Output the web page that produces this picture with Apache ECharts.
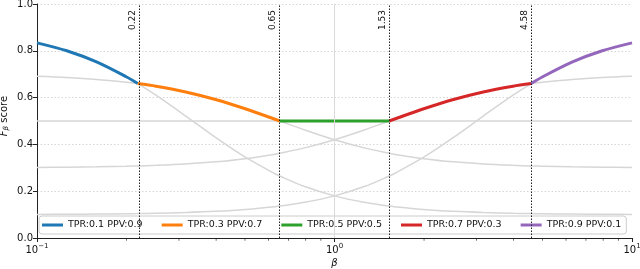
<!DOCTYPE html>
<html><head><meta charset="utf-8">
<script src="https://cdn.jsdelivr.net/npm/echarts@6/dist/echarts.min.js"></script>
<style>html,body{margin:0;padding:0;background:#fff}#c{width:640px;height:269px}</style>
</head><body><div id="c"></div>
<script>
// beta sample points (log-spaced, plus the crossover points)
const betas = [0.1, 0.1259, 0.1585, 0.1995, 0.2182, 0.2512, 0.3162, 0.3981, 0.5012, 0.631, 0.6547, 0.7943, 1,
  1.2589, 1.5275, 1.5849, 1.9953, 2.5119, 3.1623, 3.9811, 4.583, 5.0119, 6.3096, 7.9433, 10];
// F-beta scores read for each (TPR, PPV) pair
const fA = [0.8339, 0.8001, 0.7525, 0.6890, 0.66, 0.6102, 0.5211, 0.4297, 0.3453, 0.2746, 0.2647, 0.2198, 0.18,
  0.1524, 0.1364, 0.1339, 0.1217, 0.1138, 0.1088, 0.1056, 0.1042, 0.1035, 0.1022, 0.1014, 0.1009];
const fB = [0.6909, 0.6857, 0.6778, 0.6660, 0.66, 0.6487, 0.6243, 0.5920, 0.5522, 0.5074, 0.5, 0.4618, 0.42,
  0.3851, 0.3621, 0.3583, 0.3389, 0.3254, 0.3164, 0.3105, 0.308, 0.3067, 0.3043, 0.3027, 0.3017];
const fC = [0.5, 0.5, 0.5, 0.5, 0.5, 0.5, 0.5, 0.5, 0.5, 0.5, 0.5, 0.5, 0.5,
  0.5, 0.5, 0.5, 0.5, 0.5, 0.5, 0.5, 0.5, 0.5, 0.5, 0.5, 0.5];
const fD = [0.3017, 0.3027, 0.3043, 0.3067, 0.308, 0.3105, 0.3164, 0.3254, 0.3389, 0.3583, 0.3621, 0.3851, 0.42,
  0.4618, 0.5, 0.5074, 0.5522, 0.5920, 0.6243, 0.6487, 0.66, 0.6660, 0.6778, 0.6857, 0.6909];
const fE = [0.1009, 0.1014, 0.1022, 0.1035, 0.1042, 0.1056, 0.1088, 0.1138, 0.1217, 0.1339, 0.1364, 0.1524, 0.18,
  0.2198, 0.2647, 0.2746, 0.3453, 0.4297, 0.5211, 0.6102, 0.66, 0.6890, 0.7525, 0.8001, 0.8339];
const seriesNames = ['TPR:0.1 PPV:0.9', 'TPR:0.3 PPV:0.7', 'TPR:0.5 PPV:0.5', 'TPR:0.7 PPV:0.3', 'TPR:0.9 PPV:0.1'];
const colors = ['#1f77b4', '#ff7f0e', '#2ca02c', '#d62728', '#9467bd'];
// index ranges (into betas) where each pair is the best
const segStart = [0, 4, 10, 14, 20];
const segEnd = [4, 10, 14, 20, 24];
// crossover thresholds and their labels
const thresholds = [0.2182, 0.6547, 1.5275, 4.583];
const thresholdLabels = ['0.22', '0.65', '1.53', '4.58'];
const minorTicks = [0.2, 0.3, 0.4, 0.5, 0.6, 0.7, 0.8, 0.9, 2, 3, 4, 5, 6, 7, 8, 9];

const all = [fA, fB, fC, fD, fE];
const pairs = (arr, s, e) => betas.slice(s, e + 1).map((b, i) => [b, arr[s + i]]);
const FONT = 'DejaVu Sans';
const series = [];
all.forEach((arr, k) => {
  series.push({
    type: 'line', name: 'bg' + k, data: pairs(arr, 0, betas.length - 1), smooth: 0.3,
    showSymbol: false, silent: true, z: 1,
    lineStyle: { color: '#d6d6d6', width: 1.5 }, itemStyle: { color: '#d6d6d6' }
  });
});
all.forEach((arr, k) => {
  series.push({
    type: 'line', name: seriesNames[k], data: pairs(arr, segStart[k], segEnd[k]), smooth: 0.3,
    showSymbol: false, z: 3, color: colors[k],
    lineStyle: { color: colors[k], width: 3 }
  });
});
series.push({
  type: 'line', name: 'marks', data: [], z: 2, silent: true,
  markLine: {
    silent: true, symbol: 'none', animation: false,
    data: [
      { xAxis: 1, lineStyle: { color: '#d9d9d9', width: 1, type: 'solid' }, label: { show: false } },
      ...thresholds.map((t, i) => ({
        xAxis: t,
        lineStyle: { color: '#222', width: 1, type: [1.5, 1.5] },
        label: { show: true, formatter: thresholdLabels[i], position: 'insideEndTop', distance: [6, 2],
          fontSize: 9, fontFamily: FONT, color: '#111' }
      }))
    ]
  }
});
series.push({
  type: 'scatter', name: 'minor', silent: true, clip: false, z: 5,
  data: minorTicks.map(v => [v, 0]),
  symbol: 'rect', symbolSize: [0.8, 2.5], symbolOffset: [0, 1.5],
  itemStyle: { color: '#222' }
});

const chart = echarts.init(document.getElementById('c'), null, { renderer: 'canvas' });
chart.setOption({
  animation: false,
  backgroundColor: '#fff',
  grid: { left: 37, right: 8, top: 4, bottom: 31, containLabel: false, outerBoundsMode: 'none' },
  xAxis: {
    type: 'log', logBase: 10, min: 0.1, max: 10,
    name: 'β', nameLocation: 'middle', nameGap: 20, nameMoveOverlap: false,
    nameTextStyle: { fontFamily: FONT, fontSize: 10, fontStyle: 'italic', color: '#111' },
    axisLine: { show: true, lineStyle: { color: '#222', width: 1 } },
    axisTick: { show: true, inside: false, length: 4, lineStyle: { color: '#222' } },
    splitLine: { show: false },
    axisLabel: {
      margin: 5, fontFamily: FONT, fontSize: 10, color: '#111',
      formatter: v => {
        const e = Math.round(Math.log10(v));
        return '{b|10}{s|' + (e < 0 ? '−' + (-e) : e) + '}';
      },
      rich: { b: { fontSize: 10, fontFamily: FONT, color: '#111' },
              s: { fontSize: 7, fontFamily: FONT, color: '#111', padding: [0, 0, 7, 0] } }
    }
  },
  yAxis: {
    type: 'value', min: 0, max: 1, interval: 0.2,
    name: '{i|F}{sub|β} score', nameLocation: 'middle', nameGap: 27, nameRotate: 90, nameMoveOverlap: false,
    nameTextStyle: { fontFamily: FONT, fontSize: 10, color: '#111', padding: [0, 0, 0, 10],
      rich: { i: { fontStyle: 'italic', fontSize: 10, fontFamily: FONT, color: '#111' },
              sub: { fontStyle: 'italic', fontSize: 7, fontFamily: FONT, color: '#111', padding: [5, 0, 0, 0] } } },
    axisLine: { show: true, lineStyle: { color: '#222', width: 1 } },
    axisTick: { show: true, inside: false, length: 4, lineStyle: { color: '#222' } },
    splitLine: { show: true, lineStyle: { color: '#cccccc', type: [1.5, 2], width: 0.8 } },
    axisLabel: { margin: 4, fontFamily: FONT, fontSize: 10, color: '#111', formatter: v => v.toFixed(1) }
  },
  legend: {
    data: seriesNames, left: 39, top: 216, orient: 'horizontal',
    icon: 'rect', itemWidth: 21, itemHeight: 3, itemGap: 19,
    padding: [4, 5, 4, 3], borderColor: '#cccccc', borderWidth: 1, borderRadius: 3,
    backgroundColor: 'rgba(255,255,255,0.8)',
    textStyle: { fontFamily: FONT, fontSize: 9.5, color: '#111' }
  },
  series
});
</script></body></html>
